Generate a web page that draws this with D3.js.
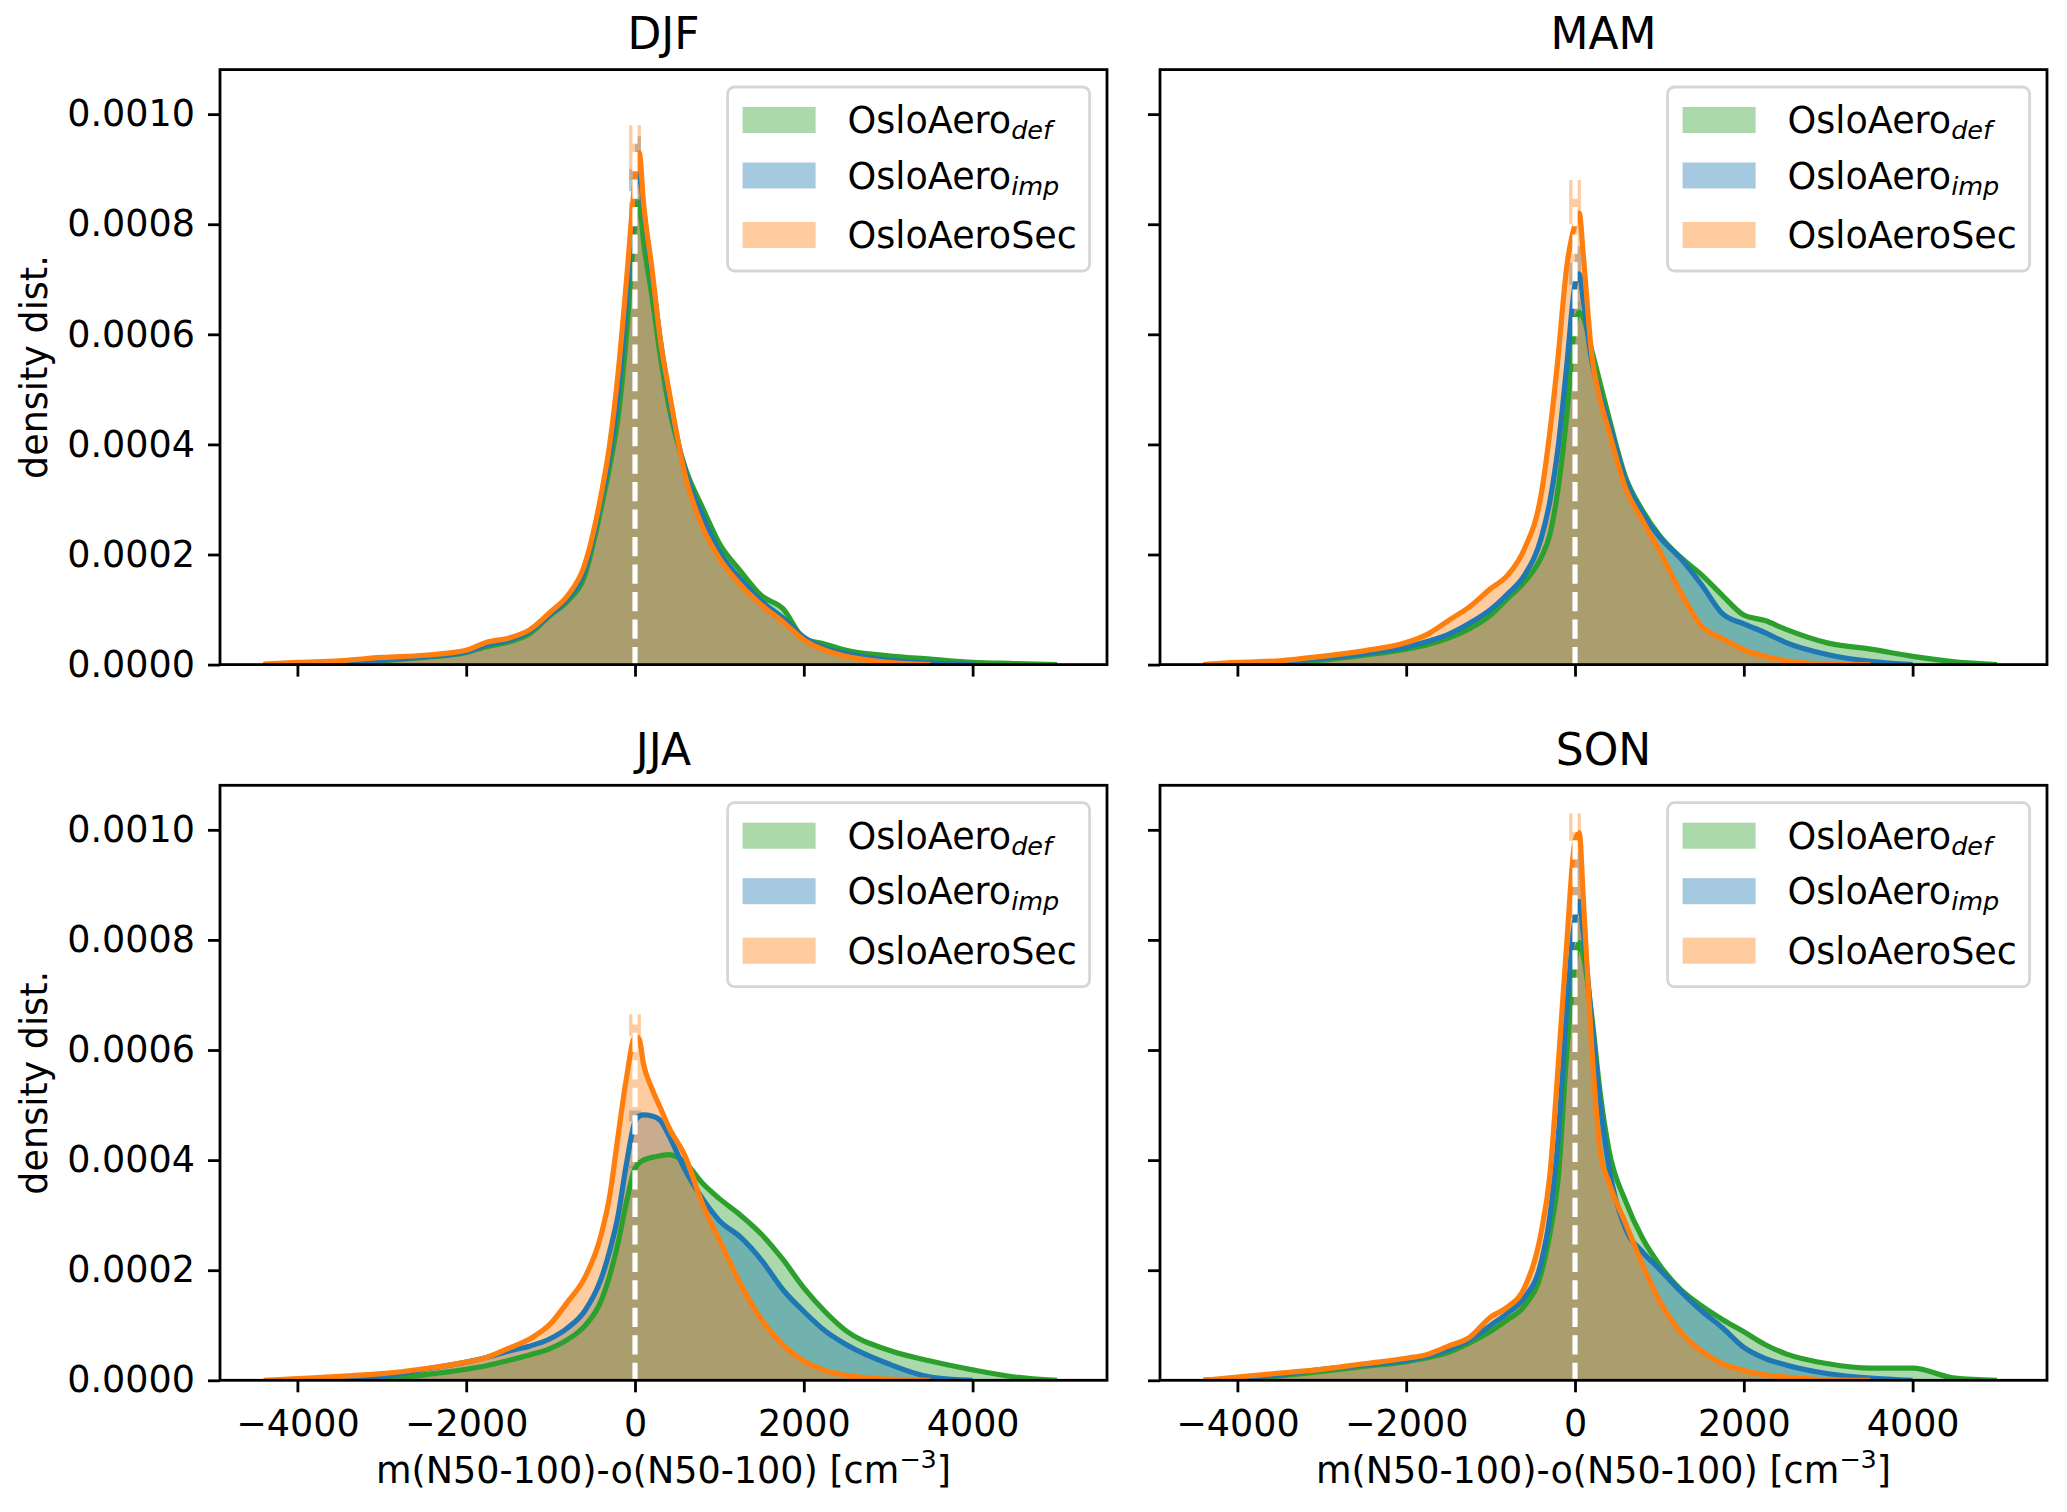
<!DOCTYPE html>
<html lang="en">
<head>
<meta charset="UTF-8">
<title>N50-100 model minus observation, density</title>
<script src="https://cdn.jsdelivr.net/npm/d3@7/dist/d3.min.js"></script>
<style>
  body { margin: 0; background: #fff; }
  text { font-family: "DejaVu Sans", sans-serif; fill: #000; }
</style>
</head>
<body>
<div id="chart"></div>
<script>
// densities are given in units of 1e-4 per cm^-3
var seasons = ['DJF', 'MAM', 'JJA', 'SON'];
var models = ['def', 'imp', 'sec'];
var colors = { def: '#2ca02c', imp: '#1f77b4', sec: '#ff7f0e' };

var kdeX = [-4400, -4000, -3500, -3000, -2500, -2000, -1750, -1500, -1250, -1000, -800, -600,
            -400, -300, -200, -100, 0, 50, 100, 200, 300, 400, 600, 800,
            1000, 1250, 1500, 1750, 2000, 2250, 2500, 3000, 3500, 4000, 4500, 5000];

var djfDef = [0, 0.01, 0.04, 0.07, 0.13, 0.22, 0.33, 0.41, 0.56, 0.9, 1.15, 1.6, 2.85, 3.6, 4.5, 6.0, 8.0, 8.4,
              7.7, 6.7, 5.6, 4.7, 3.55, 2.85, 2.2, 1.7, 1.25, 1.02, 0.48, 0.37, 0.26, 0.16, 0.1, 0.04, 0.02, 0];
var djfImp = [0, 0.02, 0.05, 0.08, 0.14, 0.23, 0.36, 0.44, 0.6, 0.92, 1.2, 1.7, 3.0, 3.8, 4.9, 6.6, 8.6, 9.0,
              8.3, 7.1, 5.9, 4.9, 3.5, 2.7, 2.05, 1.55, 1.15, 0.85, 0.5, 0.3, 0.2, 0.08, 0.03, 0, null, null];
var djfSec = [0.01, 0.04, 0.07, 0.13, 0.17, 0.26, 0.41, 0.48, 0.63, 0.96, 1.25, 1.8, 3.1, 4.0, 5.3, 7.0, 8.8, 9.3,
              8.4, 7.2, 5.9, 5.0, 3.4, 2.5, 1.93, 1.45, 1.08, 0.78, 0.45, 0.26, 0.15, 0.04, 0, null, null, null];

var mamDef = [0, 0.01, 0.03, 0.08, 0.17, 0.28, 0.36, 0.48, 0.65, 0.9, 1.2, 1.5, 1.95, 2.35, 3.2, 4.5, 6.2, 6.4,
              6.3, 5.7, 5.1, 4.5, 3.4, 2.8, 2.35, 1.95, 1.63, 1.25, 0.9, 0.8, 0.64, 0.39, 0.28, 0.15, 0.05, 0];
var mamImp = [0, 0.02, 0.05, 0.11, 0.2, 0.32, 0.42, 0.55, 0.75, 1.0, 1.28, 1.62, 2.3, 2.95, 3.95, 5.4, 6.9, 7.1,
              6.6, 5.5, 4.9, 4.4, 3.35, 2.75, 2.32, 1.93, 1.45, 0.92, 0.74, 0.58, 0.4, 0.18, 0.06, 0, null, null];
var mamSec = [0, 0.04, 0.07, 0.15, 0.25, 0.4, 0.55, 0.8, 1.05, 1.38, 1.62, 2.1, 3.1, 4.2, 5.6, 7.2, 8.0, 8.2,
              7.4, 5.6, 4.8, 4.25, 3.2, 2.62, 2.07, 1.32, 0.7, 0.47, 0.27, 0.15, 0.07, 0.01, 0, null, null, null];

var jjaDef = [null, null, 0, 0.03, 0.1, 0.2, 0.27, 0.36, 0.46, 0.58, 0.74, 0.98, 1.45, 1.9, 2.5, 3.25, 3.85, 3.95,
              4.0, 4.05, 4.08, 4.1, 3.95, 3.58, 3.3, 3.0, 2.65, 2.2, 1.68, 1.25, 0.9, 0.55, 0.35, 0.19, 0.06, 0];
var jjaImp = [null, 0, 0.02, 0.06, 0.2, 0.33, 0.42, 0.53, 0.62, 0.76, 0.95, 1.25, 1.85, 2.35, 3.0, 3.95, 4.7, 4.8,
              4.82, 4.8, 4.72, 4.45, 3.8, 3.3, 2.9, 2.6, 2.18, 1.65, 1.25, 0.9, 0.65, 0.3, 0.06, 0, null, null];
var jjaSec = [0, 0.03, 0.07, 0.12, 0.21, 0.33, 0.42, 0.58, 0.75, 1.03, 1.42, 1.85, 2.65, 3.35, 4.45, 5.5, 6.25, 6.2,
              5.75, 5.3, 4.95, 4.6, 4.05, 3.2, 2.55, 1.75, 1.1, 0.65, 0.35, 0.18, 0.09, 0.02, 0, null, null, null];

var sonDef = [0, 0.02, 0.08, 0.16, 0.25, 0.34, 0.41, 0.51, 0.68, 0.89, 1.1, 1.35, 1.95, 2.65, 3.65, 5.9, 7.6, 7.95,
              7.7, 6.6, 5.2, 4.2, 3.25, 2.58, 2.1, 1.65, 1.35, 1.1, 0.88, 0.65, 0.48, 0.3, 0.22, 0.22, 0.04, 0];
var sonImp = [0, 0.03, 0.1, 0.2, 0.28, 0.36, 0.44, 0.56, 0.73, 1.0, 1.22, 1.5, 2.15, 2.95, 4.4, 6.7, 8.4, 8.7,
              8.1, 6.5, 5.0, 3.9, 2.75, 2.33, 2.02, 1.62, 1.26, 0.95, 0.6, 0.4, 0.28, 0.12, 0.04, 0, null, null];
var sonSec = [0, 0.06, 0.13, 0.2, 0.3, 0.4, 0.47, 0.62, 0.78, 1.15, 1.33, 1.68, 2.7, 3.7, 5.7, 7.9, 9.8, 9.95,
              8.7, 6.0, 4.15, 3.6, 2.85, 2.1, 1.45, 0.88, 0.53, 0.3, 0.18, 0.1, 0.06, 0.01, 0, null, null, null];

// histogram bars next to zero that stick out above the kde
var peakBins = [-70, 0, 70];
var djfPeak = { def: [8.4, 8.5], imp: [9.0, 9.6], sec: [9.8, 9.8] };
var mamPeak = { def: [6.4, 6.6], imp: [7.3, 7.6], sec: [8.8, 8.8] };
var jjaPeak = { def: [3.9, 4.0], imp: [4.9, 4.9], sec: [6.65, 6.65] };
var sonPeak = { def: [8.2, 8.4], imp: [9.3, 9.6], sec: [10.3, 10.3] };

var xTicks = [-4000, -2000, 0, 2000, 4000];
var yTicks = [0, 0.0002, 0.0004, 0.0006, 0.0008, 0.0010];

var kde = {
  DJF: { def: djfDef, imp: djfImp, sec: djfSec },
  MAM: { def: mamDef, imp: mamImp, sec: mamSec },
  JJA: { def: jjaDef, imp: jjaImp, sec: jjaSec },
  SON: { def: sonDef, imp: sonImp, sec: sonSec }
};
var peaks = { DJF: djfPeak, MAM: mamPeak, JJA: jjaPeak, SON: sonPeak };

var W = 887, H = 595;
var panelLeft = [220, 1160], panelTop = [69.6, 785.3];
var fs = 36.5;

var svg = d3.select('#chart').append('svg')
    .attr('width', 2067).attr('height', 1512);

var x = d3.scaleLinear().domain([-4917, 5592]).range([0, W]);
var y = d3.scaleLinear().domain([0, 0.0010809]).range([H, 0]);

var area = d3.area()
    .defined(function(d){ return d.v != null; })
    .x(function(d){ return x(d.x); })
    .y0(H)
    .y1(function(d){ return y(d.v * 1e-4); })
    .curve(d3.curveMonotoneX);
var line = d3.line()
    .defined(function(d){ return d.v != null; })
    .x(function(d){ return x(d.x); })
    .y(function(d){ return y(d.v * 1e-4); })
    .curve(d3.curveMonotoneX);

seasons.forEach(function(season, si){
  var col = si % 2, row = Math.floor(si / 2);
  var g = svg.append('g')
      .attr('transform', 'translate(' + panelLeft[col] + ',' + panelTop[row] + ')');

  g.append('clipPath').attr('id', 'clip' + si)
      .append('rect').attr('width', W).attr('height', H);
  var fills = g.append('g').attr('clip-path', 'url(#clip' + si + ')');
  var lines = g.append('g').attr('clip-path', 'url(#clip' + si + ')');

  models.forEach(function(m){
    var vals = kde[season][m];
    var pts = kdeX.map(function(xv, i){ return { x: xv, v: vals[i] }; });

    fills.append('path').datum(pts)
        .attr('d', area)
        .attr('fill', colors[m]).attr('fill-opacity', 0.4);

    // spike parts of the central histogram bars
    var ph = peaks[season][m];
    ph.forEach(function(h, bi){
      var lo = peakBins[bi], hi = peakBins[bi + 1];
      var under = d3.max(pts.filter(function(p){ return p.x >= lo && p.x <= hi && p.v != null; }),
                         function(p){ return p.v; });
      if (h > under) {
        fills.append('rect')
            .attr('x', x(lo)).attr('width', x(hi) - x(lo))
            .attr('y', y(h * 1e-4)).attr('height', y(under * 1e-4) - y(h * 1e-4))
            .attr('fill', colors[m]).attr('fill-opacity', 0.4);
      }
    });

    lines.append('path').datum(pts)
        .attr('d', line)
        .attr('fill', 'none')
        .attr('stroke', colors[m]).attr('stroke-width', 5.2)
        .attr('stroke-linejoin', 'round').attr('stroke-linecap', 'butt');
  });

  // zero line
  lines.append('line')
      .attr('x1', x(0)).attr('x2', x(0)).attr('y1', 0).attr('y2', H)
      .attr('stroke', '#fff').attr('stroke-width', 5.2)
      .attr('stroke-dasharray', '19.2 8.3');

  // axes
  var yAxis = d3.axisLeft(y).tickValues(yTicks).tickSize(12).tickPadding(13)
      .tickFormat(col === 0 ? d3.format('.4f') : function(){ return ''; });
  var ya = g.append('g').call(yAxis);
  var xAxis = d3.axisBottom(x).tickValues(xTicks).tickSize(12).tickPadding(18)
      .tickFormat(row === 1 ? d3.format('d') : function(){ return ''; });
  var xa = g.append('g').attr('transform', 'translate(0,' + H + ')').call(xAxis);
  [ya, xa].forEach(function(a){
    a.select('.domain').remove();
    a.selectAll('.tick line').attr('stroke', '#000').attr('stroke-width', 2.8);
    a.selectAll('.tick text').attr('font-size', fs).attr('font-family', 'DejaVu Sans');
  });

  g.append('rect').attr('width', W).attr('height', H)
      .attr('fill', 'none').attr('stroke', '#000').attr('stroke-width', 2.8);

  g.append('text').attr('x', W / 2).attr('y', -20.8)
      .attr('text-anchor', 'middle').attr('font-size', 44)
      .text(season);

  if (col === 0) {
    g.append('text')
        .attr('transform', 'translate(' + (47 - panelLeft[0]) + ',' + (H / 2) + ') rotate(-90)')
        .attr('text-anchor', 'middle').attr('font-size', fs)
        .text('density dist.');
  }
  if (row === 1) {
    var xl = g.append('text').attr('x', W / 2).attr('y', 1483 - panelTop[1])
        .attr('text-anchor', 'middle').attr('font-size', fs);
    xl.append('tspan').text('m(N50-100)-o(N50-100) [cm');
    xl.append('tspan').attr('dy', -15).attr('font-size', 25.5).text('\u22123');
    xl.append('tspan').attr('dy', 15).attr('font-size', fs).text(']');
  }

  // legend
  var lg = g.append('g').attr('transform', 'translate(' + (W - 17.4 - 362) + ',17.4)');
  lg.append('rect').attr('width', 362).attr('height', 184).attr('rx', 7)
      .attr('fill', '#fff').attr('fill-opacity', 0.8)
      .attr('stroke', '#d6d6d6').attr('stroke-width', 2.8);
  var rowY = [33, 88.5, 148];
  var labels = { def: ['OsloAero', 'def'], imp: ['OsloAero', 'imp'], sec: ['OsloAeroSec', null] };
  models.forEach(function(m, i){
    lg.append('rect').attr('x', 15).attr('y', rowY[i] - 13).attr('width', 73).attr('height', 26)
        .attr('fill', colors[m]).attr('fill-opacity', 0.4);
    var t = lg.append('text').attr('x', 120).attr('y', rowY[i] + 13.3).attr('font-size', fs);
    t.append('tspan').text(labels[m][0]);
    if (labels[m][1]) {
      t.append('tspan').attr('dy', 6).attr('font-size', 25.5).attr('font-style', 'italic')
          .text(labels[m][1]);
    }
  });
});
</script>
</body>
</html>
